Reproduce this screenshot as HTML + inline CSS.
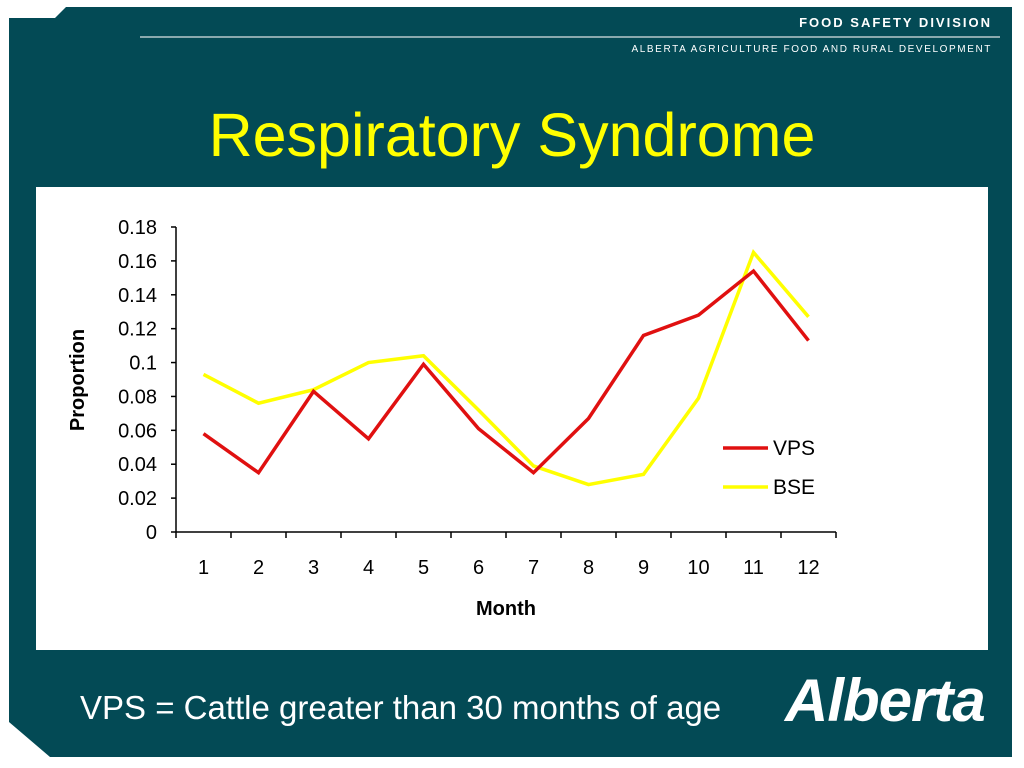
<!DOCTYPE html>
<html><head><meta charset="utf-8"><style>
html,body{margin:0;padding:0;background:#fff}
body{width:1024px;height:768px;position:relative;overflow:hidden;font-family:"Liberation Sans",sans-serif}
.abs{position:absolute}
</style></head><body>
<svg class="abs" style="left:0;top:0" width="1024" height="768">
  <polygon points="9,18 55,18 66,7 1012,7 1012,757 50,757 9,722" fill="#034a55"/>
  <line x1="140" y1="37" x2="1000" y2="37" stroke="#8aa9ae" stroke-width="2"/>
</svg>
<div class="abs" style="right:32px;top:15px;color:#fff;font-size:13px;font-weight:bold;letter-spacing:2px">FOOD SAFETY DIVISION</div>
<div class="abs" style="right:32px;top:44px;color:#fff;font-size:10px;letter-spacing:1.6px">ALBERTA AGRICULTURE FOOD AND RURAL DEVELOPMENT</div>
<div class="abs" style="left:0;width:1024px;top:100px;text-align:center;color:#ffff00;font-size:61px">Respiratory Syndrome</div>
<div class="abs" style="left:80px;top:689px;color:#fff;font-size:33px">VPS = Cattle greater than 30 months of age</div>
<div class="abs" style="left:785px;top:666px;color:#fff;font-size:60px;font-weight:bold;font-style:italic;letter-spacing:-1px">Alberta</div>
<svg id="chart" class="abs" style="left:36px;top:187px" width="952" height="463">
  <rect width="952" height="463" fill="#fff"/>
</svg>
<script>
const months=["1","2","3","4","5","6","7","8","9","10","11","12"];
const vps=[0.058,0.035,0.083,0.055,0.099,0.061,0.035,0.067,0.116,0.128,0.154,0.113];
const bse=[0.093,0.076,0.084,0.100,0.104,0.072,0.039,0.028,0.034,0.079,0.165,0.127];
const yTicks=[0,0.02,0.04,0.06,0.08,0.1,0.12,0.14,0.16,0.18];
const yTickLabels=["0","0.02","0.04","0.06","0.08","0.1","0.12","0.14","0.16","0.18"];
const NS="http://www.w3.org/2000/svg";
const svg=document.getElementById('chart');
const ox=36,oy=187;
const x0=176-ox,x1=836-ox,yB=532-oy,yT=227-oy,yMax=0.18;
const bw=(x1-x0)/months.length;
const X=i=>x0+bw*(i+0.5);
const Y=v=>yB-(v/yMax)*(yB-yT);
function mk(t,a){const e=document.createElementNS(NS,t);for(const k in a)e.setAttribute(k,a[k]);svg.appendChild(e);return e;}
let ax=mk('line',{x1:x0,y1:yT,x2:x0,y2:yB,stroke:'#000','stroke-width':1.5});


let bx=mk('line',{x1:x0,y1:yB,x2:x1,y2:yB,stroke:'#000','stroke-width':1.5});


yTicks.forEach((v,i)=>{
  mk('line',{x1:x0-5,y1:Y(v),x2:x0,y2:Y(v),stroke:'#000','stroke-width':1.5});
  const t=mk('text',{x:x0-19,y:Y(v)+7,'text-anchor':'end','font-size':20,'font-family':'Liberation Sans, sans-serif'});
  t.textContent=yTickLabels[i];
  
  
});
for(let i=0;i<=months.length;i++){mk('line',{x1:x0+bw*i,y1:yB,x2:x0+bw*i,y2:yB+6,stroke:'#000','stroke-width':1.5});}
months.forEach((m,i)=>{
  const t=mk('text',{x:X(i),y:yB+42,'text-anchor':'middle','font-size':20,'font-family':'Liberation Sans, sans-serif'});
  t.textContent=m;
  
  
});
const xt=mk('text',{x:(x0+x1)/2,y:yB+83,'text-anchor':'middle','font-size':20,'font-weight':'bold','font-family':'Liberation Sans, sans-serif'});
xt.textContent='Month';


const yt=mk('text',{x:0,y:0,'text-anchor':'middle','font-size':20,'font-weight':'bold','font-family':'Liberation Sans, sans-serif',transform:`translate(${84-ox},${380-oy}) rotate(-90)`});
yt.textContent='Proportion';


const pb=mk('polyline',{points:bse.map((v,i)=>X(i)+','+Y(v)).join(' '),fill:'none',stroke:'#ffff00','stroke-width':3.5,'stroke-linejoin':'miter'});


const pv=mk('polyline',{points:vps.map((v,i)=>X(i)+','+Y(v)).join(' '),fill:'none',stroke:'#e01010','stroke-width':3.5,'stroke-linejoin':'miter'});


[['VPS','#e01010',448],['BSE','#ffff00',487]].forEach(([n,c,y])=>{
  const l=mk('line',{x1:723-ox,y1:y-oy,x2:768-ox,y2:y-oy,stroke:c,'stroke-width':3.5});
  
  
  const t=mk('text',{x:773-ox,y:y-oy+7,'font-size':21,'font-family':'Liberation Sans, sans-serif'});
  t.textContent=n;
  
  
});
</script>
</body></html>
